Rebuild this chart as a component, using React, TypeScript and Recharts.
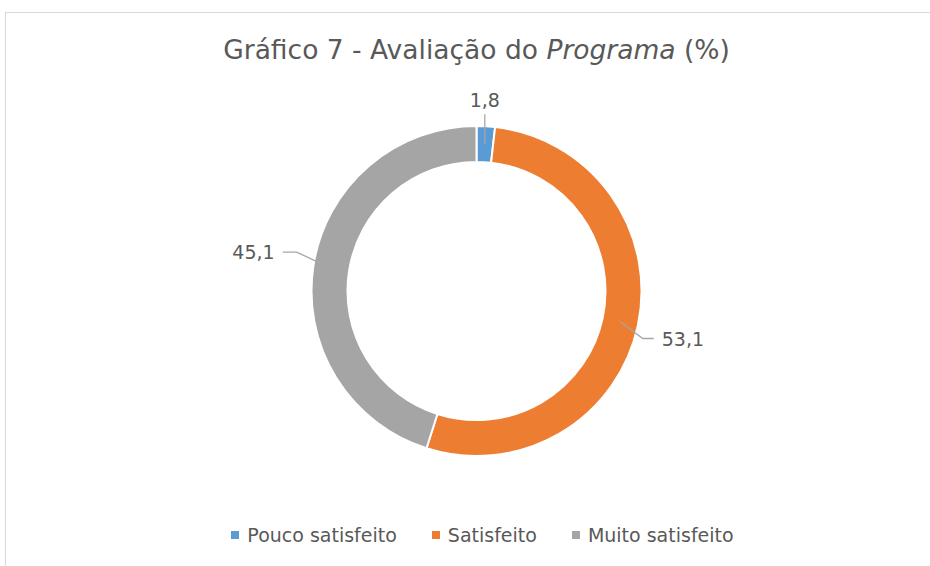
import { PieChart, Pie, Cell, Legend } from "recharts";

// categorias e valores (%)
const categories = ["Pouco satisfeito", "Satisfeito", "Muito satisfeito"];
const values = [1.8, 53.1, 45.1];
const COLORS = ["#5B9BD5", "#ED7D31", "#A5A5A5"];

const data = categories.map((name, i) => ({ name, value: values[i] }));

const TEXT = "#595959";
const FONT = "'DejaVu Sans', Verdana, sans-serif";
const RAD = Math.PI / 180;

function renderLabel(props: any) {
  const { cx, cy, midAngle, innerRadius, outerRadius, value, index } = props;
  const dx = Math.cos(-midAngle * RAD);
  const dy = Math.sin(-midAngle * RAD);
  const mid = (innerRadius + outerRadius) / 2;
  const sx = cx + dx * mid;
  const sy = cy + dy * mid;
  const txt = String(value).replace(".", ",");

  // rótulo no topo: linha vertical
  if (Math.abs(dx) < 0.3) {
    const ey = cy + dy * (outerRadius + 12);
    return (
      <g key={`lbl-${index}`}>
        <line x1={sx} y1={sy} x2={sx} y2={ey} stroke="#A6A6A6" strokeWidth={1.3} />
        <text x={sx} y={ey - 14} textAnchor="middle" dominantBaseline="central" fill={TEXT} fontSize={19} fontFamily={FONT}>
          {txt}
        </text>
      </g>
    );
  }
  // lado direito / esquerdo (ajustes parecidos com o Excel)
  const right = dx > 0;
  const sign = right ? 1 : -1;
  const extra = right ? 5 : 17;
  const rx = cx + dx * (outerRadius + extra);
  const ry = cy + dy * (outerRadius + extra) + (right ? 12 : -11);
  const ex = rx + sign * (right ? 11 : 14);
  return (
    <g key={`lbl-${index}`}>
      <polyline points={`${sx},${sy} ${rx},${ry} ${ex},${ry}`} fill="none" stroke="#A6A6A6" strokeWidth={1.3} />
      <text x={ex + sign * 8} y={ry} textAnchor={right ? "start" : "end"} dominantBaseline="central" fill={TEXT} fontSize={19} fontFamily={FONT}>
        {txt}
      </text>
    </g>
  );
}

function renderLegend() {
  return (
    <div style={{ display: "flex", justifyContent: "center", fontFamily: FONT, fontSize: 19, color: TEXT, paddingLeft: 29 }}>
      {categories.map((c, i) => (
        <span key={c} style={{ display: "inline-flex", alignItems: "center", marginRight: i < categories.length - 1 ? 35 : 0 }}>
          <span style={{ width: 8, height: 8, background: COLORS[i], display: "inline-block", marginRight: 8 }} />
          {c}
        </span>
      ))}
    </div>
  );
}

export default function App() {
  return (
    <div
      style={{
        position: "absolute",
        left: 5,
        top: 12,
        width: 925,
        height: 554,
        borderTop: "1px solid #D9D9D9",
        borderLeft: "1px solid #D9D9D9",
        background: "#fff",
        boxSizing: "border-box",
      }}
    >
      <div
        style={{
          position: "absolute",
          left: 0,
          width: 941,
          top: 21,
          textAlign: "center",
          fontFamily: FONT,
          fontSize: 26.5,
          color: TEXT,
          whiteSpace: "nowrap",
        }}
      >
        Gráfico 7 - Avaliação do <i>Programa</i> (%)
      </div>
      <PieChart width={924} height={553} style={{ position: "absolute", left: 0, top: 0 }}>
        <Pie
          data={data}
          dataKey="value"
          nameKey="name"
          cx={465.5}
          cy={273}
          innerRadius={129}
          outerRadius={165}
          startAngle={90}
          endAngle={-270}
          stroke="#fff"
          strokeWidth={2}
          label={renderLabel}
          labelLine={false}
          isAnimationActive={false}
        >
          {data.map((entry, index) => (
            <Cell key={`cell-${index}`} fill={COLORS[index % COLORS.length]} />
          ))}
        </Pie>
        <Legend verticalAlign="bottom" content={renderLegend} wrapperStyle={{ bottom: 20 }} />
      </PieChart>
    </div>
  );
}
